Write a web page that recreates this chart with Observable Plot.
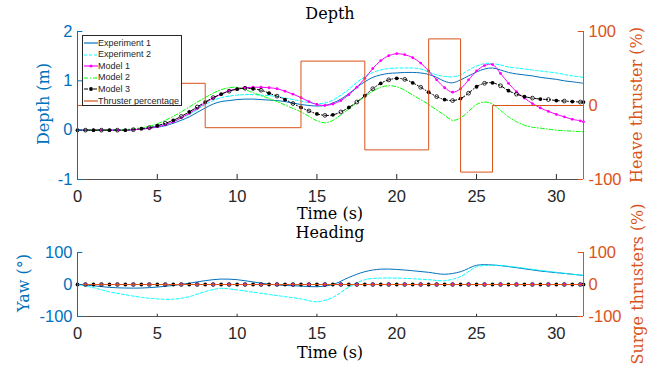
<!DOCTYPE html>
<html><head><meta charset="utf-8">
<script src="https://cdn.jsdelivr.net/npm/d3@7"></script>
<script src="https://cdn.jsdelivr.net/npm/@observablehq/plot@0.6"></script>
<style>
html,body{margin:0;padding:0;background:#fff;}
#wrap{position:relative;width:672px;height:368px;overflow:hidden;background:#fff;}
.pan{position:absolute;left:0;}
.lbl{position:absolute;white-space:nowrap;line-height:1;font-family:"DejaVu Serif",serif;}
#legend{position:absolute;left:82px;top:35px;width:100px;height:71px;background:#fff;border:1px solid #262626;box-sizing:border-box;font-family:"Liberation Sans",Arial,sans-serif;font-size:9px;color:#262626;}
.row{position:absolute;left:0;height:11px;line-height:11px;white-space:nowrap;}
.row svg{position:absolute;left:1px;top:1.5px;}
.row span{position:absolute;left:15px;top:0;}
</style></head>
<body><div id="wrap"></div>
<script>
// ---------------- data ----------------
const time = [0,0.5,1,1.5,2,2.5,3,3.5,4,4.5,5,5.5,6,6.5,7,7.5,8,8.5,9,9.5,10,10.5,11,11.5,12,12.5,13,13.5,14,14.5,15,15.5,16,16.5,17,17.5,18,18.5,19,19.5,20,20.5,21,21.5,22,22.5,23,23.5,24,24.5,25,25.5,26,26.5,27,27.5,28,28.5,29,29.5,30,30.5,31,31.5,31.7];
const exp1 = [0,0,0,0,0,0,0,0.01,0.02,0.04,0.06,0.09,0.14,0.2,0.27,0.36,0.45,0.53,0.58,0.6,0.62,0.63,0.63,0.62,0.61,0.6,0.58,0.55,0.52,0.5,0.49,0.5,0.55,0.63,0.74,0.87,0.98,1.07,1.12,1.15,1.16,1.17,1.17,1.16,1.13,1.07,0.99,0.96,1.02,1.1,1.18,1.24,1.26,1.22,1.17,1.14,1.12,1.1,1.07,1.05,1.03,1.0,0.98,0.96,0.95];
const exp2 = [0,0,0,0,0,0,0,0.01,0.03,0.05,0.08,0.12,0.17,0.24,0.32,0.42,0.52,0.6,0.66,0.69,0.71,0.72,0.72,0.71,0.7,0.68,0.65,0.62,0.59,0.56,0.54,0.55,0.61,0.71,0.83,0.97,1.08,1.17,1.22,1.25,1.26,1.26,1.26,1.24,1.18,1.12,1.09,1.08,1.12,1.22,1.3,1.35,1.35,1.32,1.28,1.26,1.24,1.22,1.2,1.18,1.16,1.13,1.1,1.08,1.07];
const model1 = [0,0,0,0,0,0,0,0.01,0.02,0.04,0.07,0.11,0.17,0.25,0.34,0.44,0.55,0.65,0.73,0.8,0.84,0.86,0.87,0.87,0.86,0.84,0.79,0.73,0.66,0.58,0.52,0.5,0.53,0.6,0.72,0.87,1.05,1.25,1.41,1.51,1.55,1.53,1.47,1.36,1.2,1.02,0.86,0.77,0.84,1.02,1.2,1.31,1.33,1.15,0.95,0.78,0.65,0.54,0.45,0.38,0.32,0.27,0.22,0.19,0.17];
const model2 = [0,0,0,0,0,0,0.01,0.03,0.05,0.08,0.13,0.2,0.28,0.37,0.47,0.57,0.66,0.75,0.82,0.86,0.87,0.82,0.76,0.7,0.64,0.58,0.51,0.44,0.37,0.28,0.19,0.15,0.2,0.31,0.43,0.56,0.68,0.79,0.87,0.9,0.88,0.81,0.71,0.62,0.52,0.41,0.3,0.2,0.25,0.38,0.52,0.57,0.53,0.4,0.27,0.17,0.1,0.06,0.04,0.02,0.0,-0.01,-0.02,-0.03,-0.03];
const model3 = [0,0,0,0,0,0,0,0.01,0.03,0.05,0.09,0.14,0.2,0.28,0.37,0.47,0.57,0.66,0.73,0.79,0.83,0.85,0.84,0.81,0.75,0.69,0.62,0.54,0.46,0.39,0.33,0.3,0.31,0.37,0.46,0.57,0.7,0.84,0.95,1.02,1.05,1.03,0.96,0.87,0.77,0.68,0.62,0.6,0.64,0.75,0.88,0.95,0.96,0.9,0.8,0.73,0.68,0.65,0.63,0.62,0.6,0.59,0.58,0.57,0.57];
const thrTime = [0,1,8,14,18,22,24,26,31.7];
const thrPct  = [0,30,-30,60,-60,90,-90,0,0];

const yawTime = [0,1,2,3,4,5,6,7,8,9,10,11,12,13,14,15,16,17,18,19,20,21,22,23,24,25,26,27,28,29,30,31,31.7];
const yawExp1 = [0,-4,-9,-11,-11,-8,-3,4,12,17,15,8,1,-3,-5,-7,0,22,40,48,47,43,38,32,40,60,61,56,49,42,37,32,28];
const yawExp2 = [0,-10,-23,-32,-40,-45,-46,-38,-22,-12,-17,-24,-31,-38,-45,-54,-40,-8,15,20,20,18,15,12,25,55,60,57,51,44,38,32,29];
const yawModels = 0;     // all three models stay at 0 deg
const surgePct = 0;      // surge thrusters at 0 %

const depthTicks = [-1,0,1,2];
const pctTicks = [-100,0,100];
const yawTicks = [-100,0,100];
const timeTicks = [0,5,10,15,20,25,30];
const seriesNames = ["Experiment 1","Experiment 2","Model 1","Model 2","Model 3","Thruster percentage"];

// ---------------- styles ----------------
const BLUE="#0072BD", ORANGE="#D95319", AXC="#262626";
const CYAN="#00FFFF", MAG="#FF00FF", GRN="#00FF00", BLK="#000000";
const DASH="3,2", DASHDOT="4,2,1,2";
const T0=0, T1=31.7;

const depthRows = time.map((t,i)=>({t,i,e1:exp1[i],e2:exp2[i],m1:model1[i],m2:model2[i],m3:model3[i]}));
const thrRows = thrTime.map((t,i)=>({t,p:thrPct[i]}));
const yawRows = yawTime.map((t,i)=>({t,e1:yawExp1[i],e2:yawExp2[i]}));
const pctToDepth = p => 0.5 + p*0.015;   // right axis [-100,100] onto left [-1,2]

function frame(yDom, leftTicks, rightVals, rightFmt) {
  const tl = 0.33, th = (yDom[1]-yDom[0])*0.034;
  return [
    Plot.ruleX([T0], {stroke: BLUE}),
    Plot.ruleX([T1], {stroke: ORANGE}),
    Plot.ruleY([yDom[0]], {stroke: AXC, strokeOpacity: 0.8}),
    Plot.ruleY(leftTicks, {x1: T0, x2: T0+tl, stroke: BLUE}),
    Plot.ruleY(rightVals, {x1: T1-tl, x2: T1, stroke: ORANGE}),
    Plot.ruleX(timeTicks.slice(1), {y1: yDom[0], y2: yDom[0]+th, stroke: AXC}),
    Plot.axisY(leftTicks, {anchor:"left", tickSize:0, tickPadding:5, tickFormat: d=>String(d), color: BLUE, label: null}),
    Plot.axisY(rightVals, {anchor:"right", tickSize:0, tickPadding:5, tickFormat: rightFmt, color: ORANGE, label: null}),
    Plot.axisX(timeTicks, {anchor:"bottom", tickSize:0, tickPadding:11, tickFormat: d=>String(d), color: AXC, label: null})
  ];
}

const common = {
  width: 672, marginLeft: 77, marginRight: 89,
  x: {domain: [T0, T1]},
  style: {fontFamily: '"Liberation Sans", Arial, sans-serif', fontSize: "16.5px", background: "transparent", overflow: "visible"}
};

const depthPlot = Plot.plot({
  ...common, height: 220, marginTop: 31, marginBottom: 41,
  y: {domain: [-1, 2]},
  marks: [
    Plot.line(depthRows, {x:"t", y:"e1", stroke: BLUE, strokeWidth: 1, curve:"catmull-rom"}),
    Plot.line(depthRows, {x:"t", y:"e2", stroke: CYAN, strokeWidth: 1, strokeDasharray: DASH, curve:"catmull-rom"}),
    Plot.line(depthRows, {x:"t", y:"m1", stroke: MAG, strokeWidth: 1, curve:"catmull-rom"}),
    Plot.dot(depthRows, {x:"t", y:"m1", r: 1.4, fill: MAG}),
    Plot.line(depthRows, {x:"t", y:"m2", stroke: GRN, strokeWidth: 1, strokeDasharray: DASHDOT, curve:"catmull-rom"}),
    Plot.line(depthRows, {x:"t", y:"m3", stroke: BLK, strokeWidth: 1, strokeDasharray: DASHDOT, curve:"catmull-rom"}),
    Plot.dot(depthRows, {filter: d=>d.i%2===0, x:"t", y:"m3", r: 1.9, fill: BLK}),
    Plot.dot(depthRows, {filter: d=>d.i%2===1, x:"t", y:"m3", r: 1.9, fill: "none", stroke: BLK, strokeWidth: 0.8}),
    Plot.line(thrRows, {x:"t", y: d=>pctToDepth(d.p), stroke: ORANGE, strokeWidth: 1, curve:"step-after"}),
    ...frame([-1,2], depthTicks, pctTicks.map(pctToDepth), v=>String(Math.round((v-0.5)/0.015)))
  ]
});

const headingPlot = Plot.plot({
  ...common, height: 148, marginTop: 32, marginBottom: 52,
  y: {domain: [-100, 100]},
  marks: [
    Plot.line(yawRows, {x:"t", y:"e1", stroke: BLUE, strokeWidth: 1, curve:"catmull-rom"}),
    Plot.line(yawRows, {x:"t", y:"e2", stroke: CYAN, strokeWidth: 1, strokeDasharray: DASH, curve:"catmull-rom"}),
    Plot.line(depthRows, {x:"t", y: yawModels, stroke: MAG, strokeWidth: 1}),
    Plot.dot(depthRows, {x:"t", y: yawModels, r: 1.4, fill: MAG}),
    Plot.line(depthRows, {x:"t", y: yawModels, stroke: GRN, strokeWidth: 1, strokeDasharray: DASHDOT}),
    Plot.line(depthRows, {x:"t", y: yawModels, stroke: BLK, strokeWidth: 1, strokeDasharray: DASHDOT}),
    Plot.dot(depthRows, {filter: d=>d.i%2===0, x:"t", y: yawModels, r: 1.9, fill: BLK}),
    Plot.dot(depthRows, {filter: d=>d.i%2===1, x:"t", y: yawModels, r: 1.9, fill: "none", stroke: BLK, strokeWidth: 0.8}),
    Plot.line(thrRows, {x:"t", y: surgePct, stroke: ORANGE, strokeWidth: 1}),
    ...frame([-100,100], yawTicks, pctTicks, v=>String(v))
  ]
});

const wrap = document.getElementById("wrap");
function panel(svg, y) { const d=document.createElement("div"); d.className="pan"; d.style.top=y+"px"; d.appendChild(svg); wrap.appendChild(d); }
panel(depthPlot, 0);
panel(headingPlot, 220);

function hlabel(text, cx, base, size, color) {
  const d=document.createElement("div"); d.className="lbl"; d.textContent=text;
  d.style.fontSize=size+"px"; d.style.color=color; d.style.left=cx+"px"; d.style.top=(base-0.846*size)+"px";
  d.style.transform="translateX(-50%)"; wrap.appendChild(d);
}
function vlabel(text, cx, cy, size, color) {
  const d=document.createElement("div"); d.className="lbl"; d.textContent=text;
  d.style.fontSize=size+"px"; d.style.color=color; d.style.left=cx+"px"; d.style.top=cy+"px";
  d.style.transform="translate(-50%,-50%) rotate(-90deg)"; wrap.appendChild(d);
}
hlabel("Depth", 330, 20, 16, "#000");
hlabel("Time (s)", 330, 220, 16, "#000");
hlabel("Heading", 330, 239, 16, "#000");
hlabel("Time (s)", 330, 359, 16, "#000");
vlabel("Depth (m)", 44, 104, 16, BLUE);
vlabel("Heave thruster (%)", 637, 105, 16, ORANGE);
vlabel("Yaw (°)", 24, 283, 16, BLUE);
vlabel("Surge thrusters (%)", 638, 284, 16, ORANGE);

// legend
const legendStyles = [
  {stroke: BLUE, dash: null, dot: null},
  {stroke: CYAN, dash: DASH, dot: null},
  {stroke: MAG, dash: null, dot: {r:1.5, fill: MAG}},
  {stroke: GRN, dash: DASHDOT, dot: null},
  {stroke: BLK, dash: DASHDOT, dot: {r:1.9, fill: BLK}},
  {stroke: ORANGE, dash: null, dot: null}
];
const leg = document.createElement("div"); leg.id="legend";
seriesNames.forEach((name,i)=>{
  const s = legendStyles[i];
  const row = document.createElement("div"); row.className="row"; row.style.top=(1.5+i*11.6)+"px";
  row.innerHTML = `<svg width="14" height="8"><line x1="0" y1="4" x2="14" y2="4" stroke="${s.stroke}" stroke-width="1.2" ${s.dash?`stroke-dasharray="${s.dash}"`:""}/>${s.dot?`<circle cx="7" cy="4" r="${s.dot.r}" fill="${s.dot.fill}"/>`:""}</svg><span>${name}</span>`;
  leg.appendChild(row);
});
wrap.appendChild(leg);
</script>
</body></html>
